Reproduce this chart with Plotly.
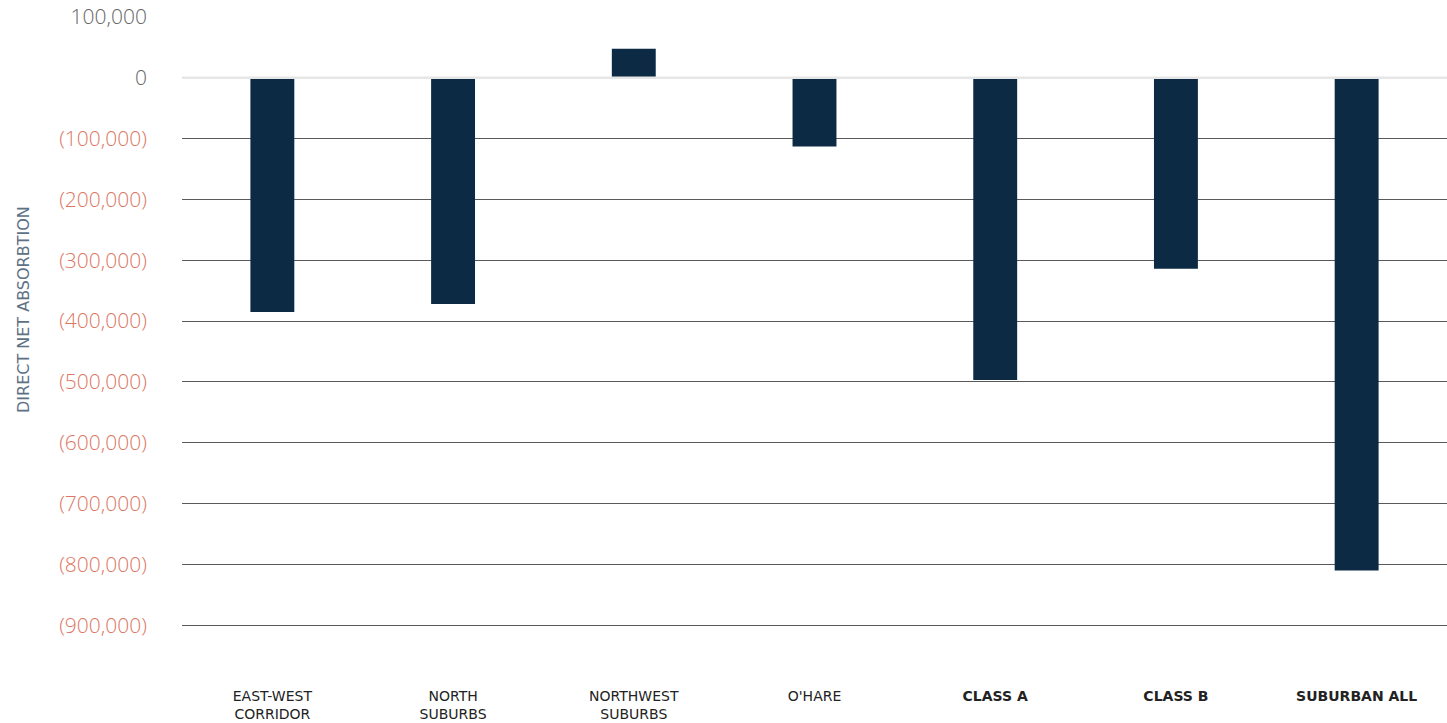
import plotly.graph_objects as go

# Direct net absorption by submarket / class (sq ft)
categories = ["EAST-WEST<br>CORRIDOR", "NORTH<br>SUBURBS", "NORTHWEST<br>SUBURBS", "O'HARE",
              "<b>CLASS A</b>", "<b>CLASS B</b>", "<b>SUBURBAN ALL</b>"]
absorption = [-385000, -372000, 48000, -113000, -497000, -314000, -810000]

tick_vals = [100000, 0, -100000, -200000, -300000, -400000, -500000,
             -600000, -700000, -800000, -900000]
tick_labels = ["100,000", "0", "(100,000)", "(200,000)", "(300,000)", "(400,000)",
               "(500,000)", "(600,000)", "(700,000)", "(800,000)", "(900,000)"]

NEG = "#dc7764"
POS = "#666666"
styled_ticks = [
    f'<span style="color:{NEG if v < 0 else POS}">{t}</span>'
    for v, t in zip(tick_vals, tick_labels)
]

fig = go.Figure(
    go.Bar(
        x=categories,
        y=absorption,
        marker=dict(color="#0d2a45", line=dict(width=0)),
        hoverinfo="skip",
    )
)

fig.update_layout(
    width=1447,
    height=723,
    margin=dict(l=182, r=0, t=17, b=37),
    paper_bgcolor="white",
    plot_bgcolor="white",
    bargap=0.757,
    showlegend=False,
    font=dict(family="Open Sans", color="#333333"),
)

fig.update_xaxes(
    type="category",
    automargin=False,
    showgrid=False,
    showline=False,
    zeroline=False,
    ticks="",
    tickfont=dict(size=14, color="#222222", family="DejaVu Sans"),
)

fig.update_yaxes(
    range=[-1000000, 100000],
    automargin=False,
    tickvals=tick_vals,
    ticktext=styled_ticks,
    tickfont=dict(size=21, weight=300),
    ticklabelstandoff=34,
    showgrid=True,
    gridcolor="#5a5a5a",
    gridwidth=1.2,
    zeroline=False,
    showline=False,
    ticks="",
)

# light baseline at zero, drawn over the bars
fig.add_shape(type="line", xref="paper", x0=0, x1=1, yref="y", y0=0, y1=0,
              line=dict(color="#e6e6e6", width=2.5), layer="above")

fig.add_annotation(
    text="DIRECT NET ABSORBTION",
    textangle=-90,
    xref="paper", yref="paper",
    x=0, y=0.562,
    xanchor="center", yanchor="middle",
    xshift=-159,
    showarrow=False,
    font=dict(size=16, color="#5d7185", family="DejaVu Sans"),
)

fig.write_html("out.html")
